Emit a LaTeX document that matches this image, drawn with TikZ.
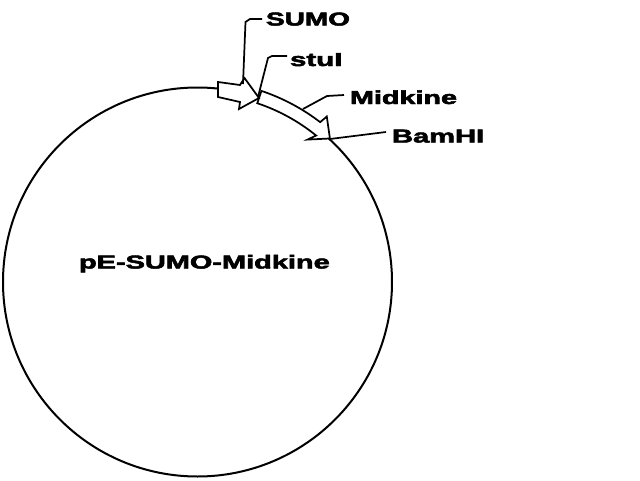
\documentclass[tikz,border=0pt]{standalone}
\usepackage{fontspec}
\setmainfont{Liberation Sans}
\newfontfamily\heavyfont[FakeBold=2.5]{Liberation Sans Bold}
\usepackage{graphicx}
\newcommand{\lbltext}[2]{\scalebox{#1}[1]{\fontsize{14}{16}\selectfont\heavyfont #2}}
\begin{document}
\begin{tikzpicture}[x=0.75pt,y=0.75pt,
  ring/.style={line width=1.5pt},
  feat/.style={draw, fill=white, line width=1.3pt, line join=miter},
  lead/.style={line width=1.3pt},
  lab/.style={anchor=base west, inner sep=0pt, outer sep=0pt}]
\useasboundingbox (0,0) rectangle (640,480);
% plasmid
\coordinate (c) at (197.5,198);
\draw[ring] (c) circle (194.5);
% Midkine feature (curved arrow)
\draw[feat] ([shift={(71.5:201.5)}]c) arc[start angle=71.5, end angle=52.5, radius=201.5]
  -- ([shift={(52:210)}]c) -- ([shift={(47.3:195.3)}]c) -- ([shift={(52.3:180)}]c)
  -- ([shift={(51:188.5)}]c) arc[start angle=51, end angle=71.5, radius=188.5] -- cycle;
% SUMO feature (straight arrow)
\draw[feat] (218,398) -- (240,395) -- (244.5,402) -- (259,382) -- (239,371) -- (240,378) -- (218,383) -- cycle;
% labels
\node[lab] (title) at (79,211.5) {\lbltext{1.55}{pE-SUMO-Midkine}};
\node[lab] (sumo) at (266,454.5) {\lbltext{1.5}{SUMO}};
\node[lab] (stui) at (290,414) {\lbltext{1.58}{stuI}};
\node[lab] (midk) at (350,376) {\lbltext{1.54}{Midkine}};
\node[lab] (bam) at (392,337.5) {\lbltext{1.56}{BamHI}};
% leader anchor points
\coordinate (sumoA) at (243,396);
\coordinate (sumoE) at (262,461);
\coordinate (stuiA) at (258,383);
\coordinate (stuiE) at (287,424);
\coordinate (midkA) at (303,371);
\coordinate (midkE) at (344,385);
\coordinate (bamA) at (330,341);
\coordinate (bamE) at (386,348);
% leaders
\draw[lead] (sumoA) -- (245.5,458) -- (250,461) -- (sumoE);
\draw[lead] (stuiA) -- (268,422) -- (272,424) -- (stuiE);
\draw[lead] (midkA) -- (327,384) -- (midkE);
\draw[lead] (bamA) -- (bamE);
\end{tikzpicture}
\end{document}
